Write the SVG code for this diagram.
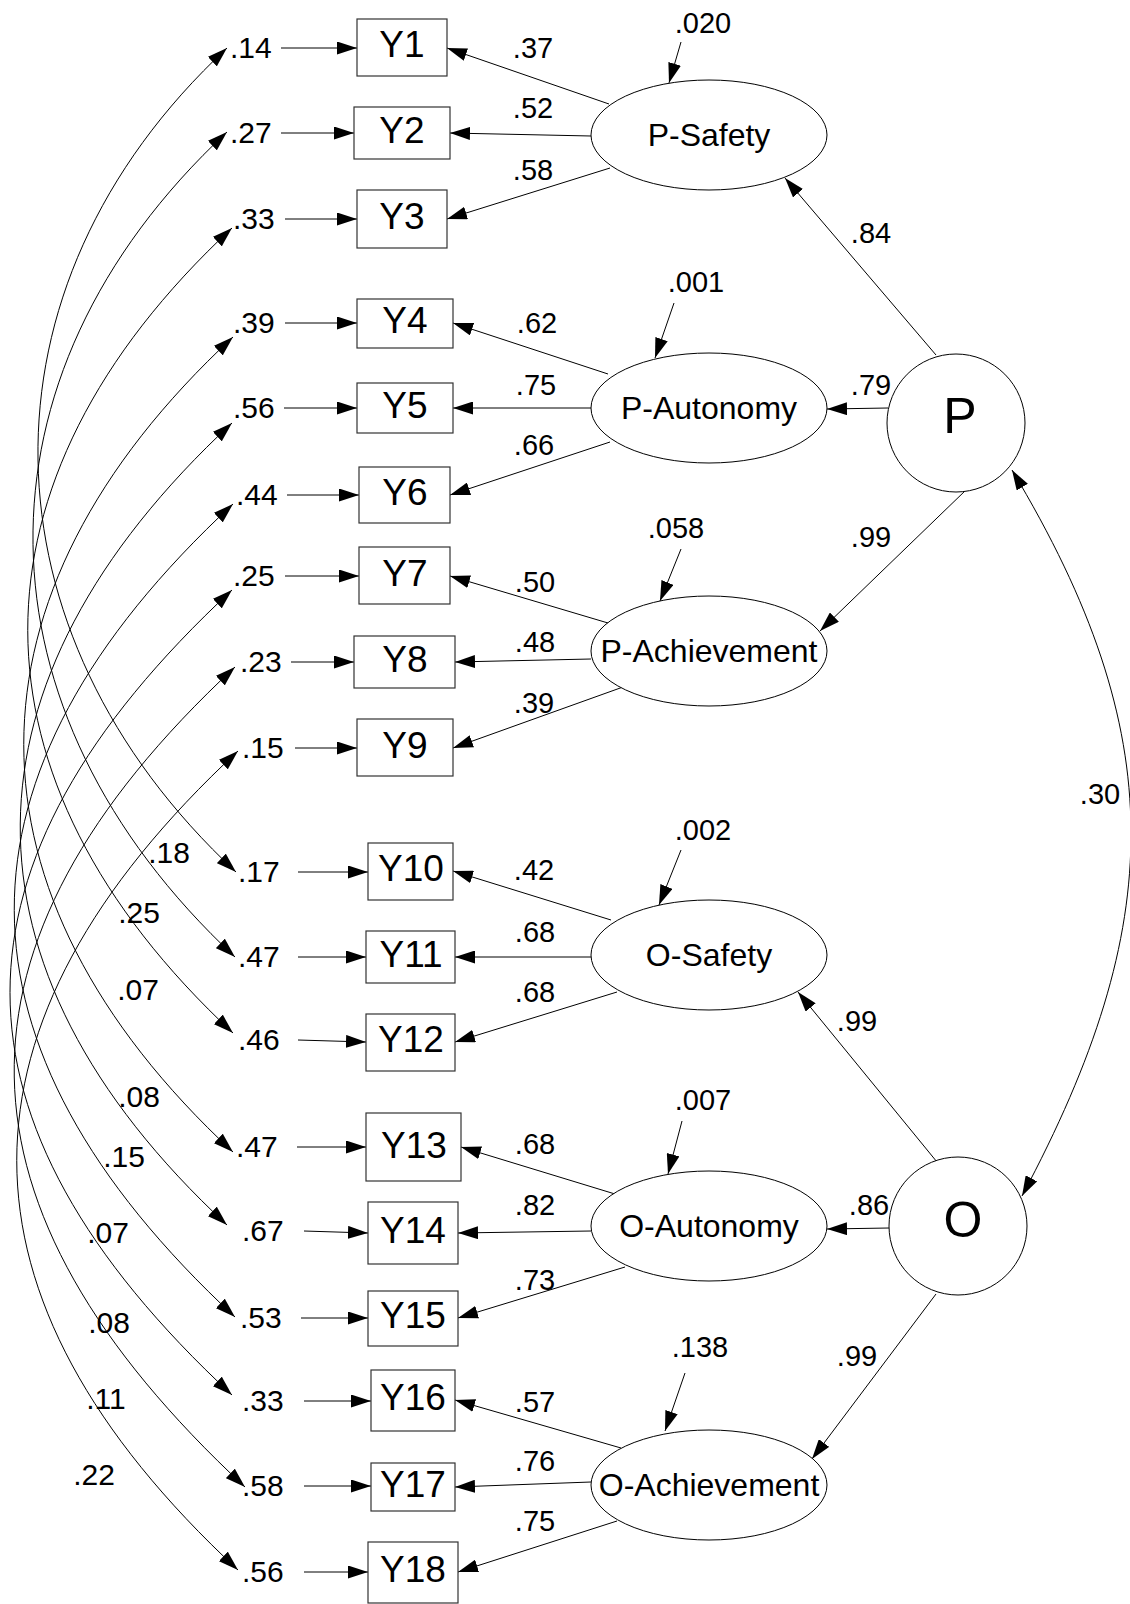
<svg xmlns="http://www.w3.org/2000/svg" width="1130" height="1604" viewBox="0 0 1130 1604">
<style>
text{font-family:"Liberation Sans",Arial,sans-serif;fill:#000}
.num{font-size:30px}
.ld{font-size:29px;text-anchor:middle}
.cv{font-size:30px;text-anchor:middle}
.bx rect{fill:#fff;stroke:#333;stroke-width:1.2}
.bx text{font-size:37px;text-anchor:middle}
.lat ellipse,.lat circle{fill:#fff;stroke:#000;stroke-width:1}
.lat text{font-size:32px;text-anchor:middle}
.big text{font-size:50px}
.c path,.c line{fill:none;stroke:#000;stroke-width:1;marker-end:url(#ah)}
.c .cov{marker-start:url(#ah)}
</style>
<defs>
<marker id="ah" viewBox="0 0 20 13" refX="20" refY="6.5" markerWidth="20" markerHeight="13" markerUnits="userSpaceOnUse" orient="auto-start-reverse">
<path d="M0,0L20,6.5L0,13z" fill="#000"/>
</marker>
</defs>
<rect width="1130" height="1604" fill="#fff"/>

<g id="connectors" class="c">
<!-- covariances -->
<path class="cov" d="M227,48 C-31,288 -22,632 236,872"/>
<path class="cov" d="M227,132 C-37,378 -29,711 235,957"/>
<path class="cov" d="M232,228 C-41,482 -40,779 233,1033"/>
<path class="cov" d="M233,337 C-46,596 -46,893 233,1152"/>
<path class="cov" d="M232,423 C-47,682 -52,966 227,1225"/>
<path class="cov" d="M233,504 C-60,776 -58,1045 235,1317"/>
<path class="cov" d="M232,590 C-64,865 -64,1120 232,1395"/>
<path class="cov" d="M235,667 C-66,947 -56,1207 245,1487"/>
<path class="cov" d="M238,751 C-57,1025 -57,1296 238,1570"/>
<path class="cov" d="M1012,470 C1171,735 1167,924 1022,1196"/>
<!-- error arrows -->
<line x1="281" y1="48" x2="357" y2="48"/>
<line x1="281" y1="133" x2="354" y2="133"/>
<line x1="285" y1="219" x2="357" y2="219"/>
<line x1="285" y1="323" x2="357" y2="323"/>
<line x1="284" y1="408" x2="357" y2="408"/>
<line x1="287" y1="495" x2="359" y2="495"/>
<line x1="285" y1="576" x2="359" y2="576"/>
<line x1="291" y1="662" x2="354" y2="662"/>
<line x1="295" y1="748" x2="357" y2="748"/>
<line x1="298" y1="872" x2="368" y2="872"/>
<line x1="298" y1="957" x2="366" y2="957"/>
<line x1="298" y1="1040" x2="366" y2="1042"/>
<line x1="297" y1="1147" x2="366" y2="1147"/>
<line x1="304" y1="1231" x2="368" y2="1233"/>
<line x1="301" y1="1318" x2="368" y2="1318"/>
<line x1="304" y1="1401" x2="371" y2="1401"/>
<line x1="304" y1="1486" x2="371" y2="1486"/>
<line x1="304" y1="1572" x2="368" y2="1572"/>
<!-- loadings -->
<line x1="609" y1="104" x2="447" y2="48"/>
<line x1="591" y1="136" x2="450" y2="133"/>
<line x1="610" y1="168" x2="447" y2="219"/>
<line x1="608" y1="374" x2="453" y2="323"/>
<line x1="591" y1="408" x2="453" y2="408"/>
<line x1="610" y1="442" x2="450" y2="495"/>
<line x1="608" y1="623" x2="450" y2="576"/>
<line x1="591" y1="659" x2="455" y2="662"/>
<line x1="623" y1="687" x2="453" y2="748"/>
<line x1="611" y1="920" x2="453" y2="871"/>
<line x1="591" y1="957" x2="455" y2="957"/>
<line x1="617" y1="992" x2="455" y2="1042"/>
<line x1="615" y1="1194" x2="461" y2="1147"/>
<line x1="591" y1="1231" x2="458" y2="1233"/>
<line x1="625" y1="1267" x2="458" y2="1318"/>
<line x1="621" y1="1448" x2="455" y2="1400"/>
<line x1="591" y1="1482" x2="455" y2="1487"/>
<line x1="617" y1="1521" x2="458" y2="1572"/>
<!-- structural -->
<line x1="936" y1="355" x2="785" y2="178"/>
<line x1="888" y1="408" x2="827" y2="409"/>
<line x1="966" y1="490" x2="820" y2="631"/>
<line x1="937" y1="1162" x2="798" y2="992"/>
<line x1="889" y1="1228" x2="827" y2="1229"/>
<line x1="936" y1="1294" x2="812" y2="1459"/>
<!-- residuals -->
<line x1="681" y1="42" x2="669" y2="83"/>
<line x1="674" y1="303" x2="655" y2="358"/>
<line x1="681" y1="549" x2="660" y2="601"/>
<line x1="681" y1="850" x2="659" y2="905"/>
<line x1="682" y1="1121" x2="668" y2="1174"/>
<line x1="685" y1="1373" x2="665" y2="1431"/>
</g>

<g id="Y1" class="bx"><rect x="357" y="19" width="90" height="57"/><text x="402" y="57">Y1</text></g>
<g id="Y2" class="bx"><rect x="354" y="107" width="96" height="52"/><text x="402" y="143">Y2</text></g>
<g id="Y3" class="bx"><rect x="357" y="190" width="90" height="58"/><text x="402" y="229">Y3</text></g>
<g id="Y4" class="bx"><rect x="357" y="299" width="96" height="49"/><text x="405" y="333">Y4</text></g>
<g id="Y5" class="bx"><rect x="357" y="383" width="96" height="50"/><text x="405" y="418">Y5</text></g>
<g id="Y6" class="bx"><rect x="359" y="467" width="91" height="56"/><text x="405" y="505">Y6</text></g>
<g id="Y7" class="bx"><rect x="359" y="547" width="91" height="57"/><text x="405" y="586">Y7</text></g>
<g id="Y8" class="bx"><rect x="354" y="636" width="101" height="52"/><text x="405" y="672">Y8</text></g>
<g id="Y9" class="bx"><rect x="357" y="719" width="96" height="57"/><text x="405" y="758">Y9</text></g>
<g id="Y10" class="bx"><rect x="368" y="843" width="85" height="57"/><text x="411" y="881">Y10</text></g>
<g id="Y11" class="bx"><rect x="366" y="931" width="89" height="52"/><text x="411" y="967">Y11</text></g>
<g id="Y12" class="bx"><rect x="366" y="1014" width="89" height="57"/><text x="411" y="1052">Y12</text></g>
<g id="Y13" class="bx"><rect x="366" y="1113" width="95" height="68"/><text x="414" y="1158">Y13</text></g>
<g id="Y14" class="bx"><rect x="368" y="1202" width="90" height="62"/><text x="413" y="1243">Y14</text></g>
<g id="Y15" class="bx"><rect x="368" y="1291" width="90" height="55"/><text x="413" y="1328">Y15</text></g>
<g id="Y16" class="bx"><rect x="371" y="1370" width="84" height="61"/><text x="413" y="1410">Y16</text></g>
<g id="Y17" class="bx"><rect x="371" y="1463" width="84" height="48"/><text x="413" y="1497">Y17</text></g>
<g id="Y18" class="bx"><rect x="368" y="1542" width="90" height="61"/><text x="413" y="1582">Y18</text></g>

<g id="errors" class="num">
<text x="230" y="58">.14</text>
<text x="230" y="143">.27</text>
<text x="233" y="229">.33</text>
<text x="233" y="333">.39</text>
<text x="233" y="418">.56</text>
<text x="236" y="505">.44</text>
<text x="233" y="586">.25</text>
<text x="240" y="672">.23</text>
<text x="242" y="758">.15</text>
<text x="238" y="882">.17</text>
<text x="238" y="967">.47</text>
<text x="238" y="1050">.46</text>
<text x="236" y="1157">.47</text>
<text x="242" y="1241">.67</text>
<text x="240" y="1328">.53</text>
<text x="242" y="1411">.33</text>
<text x="242" y="1496">.58</text>
<text x="242" y="1582">.56</text>
</g>

<g id="P-Safety" class="lat"><ellipse cx="709" cy="135" rx="118" ry="55"/><text x="709" y="146">P-Safety</text></g>
<g id="P-Autonomy" class="lat"><ellipse cx="709" cy="408" rx="118" ry="55"/><text x="709" y="419">P-Autonomy</text></g>
<g id="P-Achievement" class="lat"><ellipse cx="709" cy="651" rx="118" ry="55"/><text x="709" y="662">P-Achievement</text></g>
<g id="O-Safety" class="lat"><ellipse cx="709" cy="955" rx="118" ry="55"/><text x="709" y="966">O-Safety</text></g>
<g id="O-Autonomy" class="lat"><ellipse cx="709" cy="1226" rx="118" ry="55"/><text x="709" y="1237">O-Autonomy</text></g>
<g id="O-Achievement" class="lat"><ellipse cx="709" cy="1485" rx="118" ry="55"/><text x="709" y="1496">O-Achievement</text></g>
<g id="P" class="lat big"><circle cx="956" cy="423" r="69"/><text x="960" y="433">P</text></g>
<g id="O" class="lat big"><circle cx="958" cy="1226" r="69"/><text x="963" y="1237">O</text></g>

<g id="labels">
<g class="num ld">
<text x="533" y="58">.37</text>
<text x="533" y="118">.52</text>
<text x="533" y="180">.58</text>
<text x="537" y="333">.62</text>
<text x="536" y="395">.75</text>
<text x="534" y="455">.66</text>
<text x="535" y="592">.50</text>
<text x="535" y="652">.48</text>
<text x="534" y="713">.39</text>
<text x="534" y="880">.42</text>
<text x="535" y="942">.68</text>
<text x="535" y="1002">.68</text>
<text x="535" y="1154">.68</text>
<text x="535" y="1215">.82</text>
<text x="535" y="1290">.73</text>
<text x="535" y="1412">.57</text>
<text x="535" y="1471">.76</text>
<text x="535" y="1531">.75</text>
<text x="871" y="243">.84</text>
<text x="871" y="395">.79</text>
<text x="871" y="547">.99</text>
<text x="857" y="1031">.99</text>
<text x="869" y="1215">.86</text>
<text x="857" y="1366">.99</text>
<text x="1100" y="804">.30</text>
<text x="703" y="33">.020</text>
<text x="696" y="292">.001</text>
<text x="676" y="538">.058</text>
<text x="703" y="840">.002</text>
<text x="703" y="1110">.007</text>
<text x="700" y="1357">.138</text>
</g>
<g class="cv">
<text x="169" y="863">.18</text>
<text x="139" y="923">.25</text>
<text x="138" y="1000">.07</text>
<text x="139" y="1107">.08</text>
<text x="124" y="1167">.15</text>
<text x="108" y="1243">.07</text>
<text x="109" y="1333">.08</text>
<text x="106" y="1409">.11</text>
<text x="94" y="1485">.22</text>
</g>
</g>
</svg>
